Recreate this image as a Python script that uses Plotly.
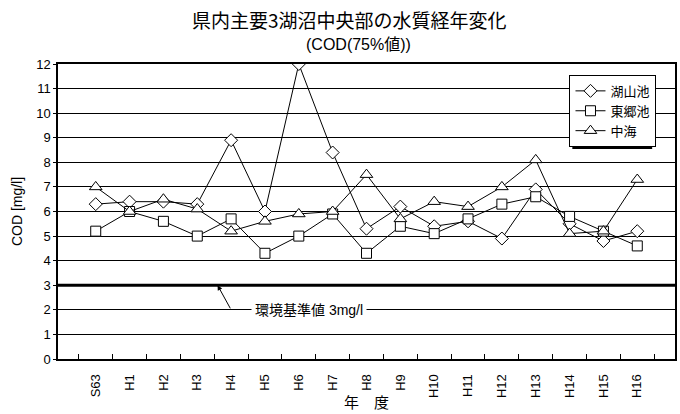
import plotly.graph_objects as go

# Fiscal years (Showa 63 through Heisei 16)
years = ["S63", "H1", "H2", "H3", "H4", "H5", "H6", "H7", "H8",
         "H9", "H10", "H11", "H12", "H13", "H14", "H15", "H16"]

# COD 75th-percentile values [mg/l] at the centre of each lake
koyama_ike = [6.3, 6.4, 6.4, 6.3, 8.9, 6.0, 12.0, 8.4, 5.3,
              6.2, 5.4, 5.6, 4.9, 6.9, 5.5, 4.8, 5.2]
togo_ike = [5.2, 6.0, 5.6, 5.0, 5.7, 4.3, 5.0, 5.9, 4.3,
            5.4, 5.1, 5.7, 6.3, 6.6, 5.8, 5.2, 4.6]
nakaumi = [7.0, 6.0, 6.5, 6.1, 5.2, 5.6, 5.9, 6.0, 7.5,
           5.7, 6.4, 6.2, 7.0, 8.1, 5.1, 5.2, 7.3]

series_names = ["湖山池", "東郷池", "中海"]
y_ticks = list(range(0, 13))

standard_cod = 3  # environmental standard [mg/l]
standard_label = "環境基準値 3mg/l"

FONT = "Liberation Sans, Arial, Noto Sans CJK JP, sans-serif"
CJK = "Noto Sans CJK JP, sans-serif"

fig = go.Figure()
for name, vals, sym, size in [
    (series_names[0], koyama_ike, "diamond", 10),
    (series_names[1], togo_ike, "square", 10),
    (series_names[2], nakaumi, "triangle-up", 11),
]:
    fig.add_trace(go.Scatter(
        x=years, y=vals, name=name, mode="lines+markers",
        line=dict(color="black", width=1),
        marker=dict(symbol=sym, size=size, color="white",
                    line=dict(color="black", width=1)),
    ))

# Environmental standard line
fig.add_shape(type="line", xref="paper", x0=0, x1=1, yref="y",
              y0=standard_cod, y1=standard_cod,
              line=dict(color="black", width=3))

# Legend drop shadow (offset behind the legend box)
fig.add_shape(type="rect", xref="paper", yref="paper",
              x0=0.8336, x1=0.963, y0=0.712, y1=0.9525,
              fillcolor="black", line=dict(width=0), layer="above")

annotations = [
    dict(text="県内主要3湖沼中央部の水質経年変化", xref="paper", yref="paper",
         x=0.473, y=1.15, xanchor="center", yanchor="middle", showarrow=False,
         font=dict(family=CJK, size=19, color="black")),
    dict(text="(COD(75%値))", xref="paper", yref="paper",
         x=0.487, y=1.066, xanchor="center", yanchor="middle", showarrow=False,
         font=dict(family=FONT, size=16, color="black")),
    # standard label sitting on the 2 mg/l grid line
    dict(text=standard_label, xref="x", yref="y", x=6.3, y=2, showarrow=False,
         bgcolor="white", borderpad=3,
         font=dict(family=FONT, size=14, color="black")),
    # leader arrow to the standard line
    dict(text="", xref="x", yref="y", x=3.6, y=standard_cod,
         axref="x", ayref="y", ax=4.0, ay=2,
         showarrow=True, arrowhead=2, arrowsize=1, arrowwidth=1, arrowcolor="black"),
]

fig.update_layout(
    width=680, height=414,
    margin=dict(l=58, r=3, t=64, b=55),
    paper_bgcolor="white", plot_bgcolor="white",
    font=dict(family=FONT, size=12, color="black"),
    showlegend=True,
    legend=dict(x=0.829, y=0.963, xanchor="left", yanchor="top",
                bgcolor="white", bordercolor="black", borderwidth=1,
                font=dict(family=CJK, size=13, color="black"),
                tracegroupgap=0, itemwidth=30),
    annotations=annotations,
)

fig.update_xaxes(
    type="category", categoryorder="array", categoryarray=years,
    tickangle=-90, tickson="boundaries", ticks="inside", ticklen=5,
    tickcolor="black", showgrid=False, showline=True, linecolor="black",
    linewidth=2, mirror=True, ticklabelstandoff=8,
    tickfont=dict(family=FONT, size=13),
    title=dict(text="年　度", standoff=0, font=dict(family=CJK, size=15)),
)
fig.update_yaxes(
    range=[0, 12], tickvals=y_ticks, ticks="outside", ticklen=3,
    tickcolor="black", showgrid=True, gridcolor="black", gridwidth=1,
    zeroline=False, showline=True, linecolor="black", linewidth=1.5,
    mirror=True, tickfont=dict(family=FONT, size=13),
    title=dict(text="COD [mg/l]", standoff=10, font=dict(family=FONT, size=14)),
)

fig.write_html("out.html")
